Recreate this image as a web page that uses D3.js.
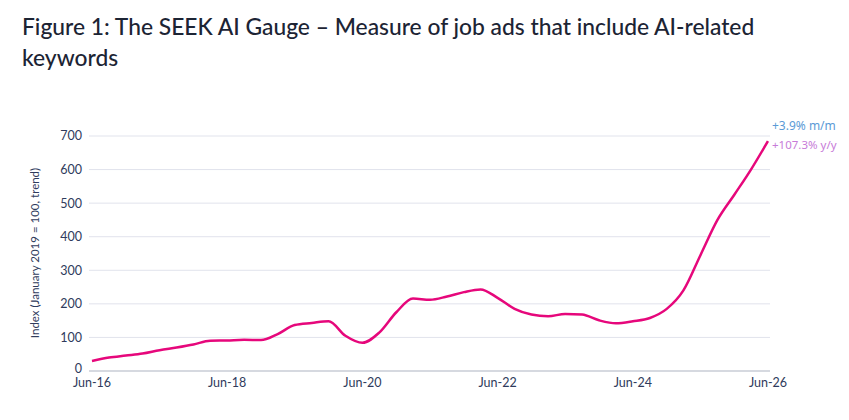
<!DOCTYPE html>
<html>
<head>
<meta charset="utf-8">
<script src="https://cdn.jsdelivr.net/npm/d3@7"></script>
<style>
  body { margin: 0; background: #fff; }
  svg { display: block; font-family: 'Lato', 'Noto Sans', sans-serif; }
</style>
</head>
<body>
<div id="chart"></div>
<script>
// quarterly readings of the index, Jun-16 .. Jun-26
const quarters = [
  '2016-06', '2016-09', '2016-12', '2017-03', '2017-06', '2017-09', '2017-12',
  '2018-03', '2018-06', '2018-09', '2018-12', '2019-03', '2019-06', '2019-09',
  '2019-12', '2020-03', '2020-06', '2020-09', '2020-12', '2021-03', '2021-06',
  '2021-09', '2021-12', '2022-03', '2022-06', '2022-09', '2022-12', '2023-03',
  '2023-06', '2023-09', '2023-12', '2024-03', '2024-06', '2024-09', '2024-12',
  '2025-03', '2025-06', '2025-09', '2025-12', '2026-03', '2026-06'
]
const indexValues = [
  30, 40, 46, 52, 62, 70, 79,
  90, 91, 93, 92, 110, 137, 143,
  148, 105, 84, 115, 175, 216, 212,
  222, 235, 243, 218, 185, 168, 163,
  170, 168, 151, 142, 148, 158, 185,
  240, 345, 450, 525, 600, 685
]
const yTicks = [0, 100, 200, 300, 400, 500, 600, 700]
const xTicks = ['2016-06', '2018-06', '2020-06', '2022-06', '2024-06', '2026-06']
const mmLabel = '+3.9% m/m'
const yyLabel = '+107.3% y/y'

const parseMonth = d3.timeParse('%Y-%m')
const data = quarters.map((q, i) => ({ date: parseMonth(q), value: indexValues[i] }))

const width = 849
const height = 420

const svg = d3
  .select('#chart')
  .append('svg')
  .attr('width', width)
  .attr('height', height)

// title
const title = svg
  .append('text')
  .attr('x', 22)
  .attr('y', 35)
  .attr('fill', '#1c2434')
  .attr('font-size', 22.8)
  .attr('font-weight', 500)
title.append('tspan').attr('x', 22).text('Figure 1: The SEEK AI Gauge – Measure of job ads that include AI-related')
title.append('tspan').attr('x', 22).attr('dy', 31).text('keywords')

const x = d3
  .scaleTime()
  .domain([parseMonth('2016-06'), parseMonth('2026-06')])
  .range([92, 768])

const y = d3.scaleLinear().domain([0, 700]).range([371, 136])

// grid
svg
  .selectAll('.grid')
  .data(yTicks)
  .enter()
  .append('line')
  .attr('class', 'grid')
  .attr('x1', 89)
  .attr('x2', 770)
  .attr('y1', d => y(d))
  .attr('y2', d => y(d))
  .attr('stroke', d => (d === 0 ? '#c9ccd6' : '#e1e3ec'))
  .attr('stroke-width', d => (d === 0 ? 1.5 : 1))

svg
  .selectAll('.y-label')
  .data(yTicks)
  .enter()
  .append('text')
  .attr('class', 'y-label')
  .attr('x', 82)
  .attr('y', d => y(d) - (d === 0 ? 2 : 0))
  .attr('dy', '0.35em')
  .attr('text-anchor', 'end')
  .attr('font-size', 12.5)
  .attr('fill', '#2f3b5c')
  .text(d => d)

svg
  .selectAll('.x-label')
  .data(xTicks)
  .enter()
  .append('text')
  .attr('class', 'x-label')
  .attr('x', d => x(parseMonth(d)))
  .attr('y', 387)
  .attr('text-anchor', 'middle')
  .attr('font-size', 12.5)
  .attr('fill', '#2f3b5c')
  .text(d => d3.timeFormat('%b-%y')(parseMonth(d)))

svg
  .append('text')
  .attr('transform', 'translate(39,' + 253 + ') rotate(-90)')
  .attr('text-anchor', 'middle')
  .attr('font-size', 11.5)
  .attr('fill', '#2f3b5c')
  .text('Index (January 2019 = 100, trend)')

const line = d3
  .line()
  .x(d => x(d.date))
  .y(d => y(d.value))
  .curve(d3.curveMonotoneX)

svg
  .append('path')
  .datum(data)
  .attr('d', line)
  .attr('fill', 'none')
  .attr('stroke', '#e6077b')
  .attr('stroke-width', 2.5)

const last = data[data.length - 1]
svg
  .append('text')
  .attr('x', x(last.date) + 4)
  .attr('y', y(last.value) - 11)
  .style('font-family', "'Noto Sans', sans-serif")
  .attr('font-size', 12)
  .attr('fill', '#5b9ad6')
  .text(mmLabel)

svg
  .append('text')
  .attr('x', x(last.date) + 4)
  .attr('y', y(last.value) + 8)
  .style('font-family', "'Noto Sans', sans-serif")
  .attr('font-size', 11.5)
  .attr('fill', '#c77bd8')
  .text(yyLabel)
</script>
</body>
</html>
